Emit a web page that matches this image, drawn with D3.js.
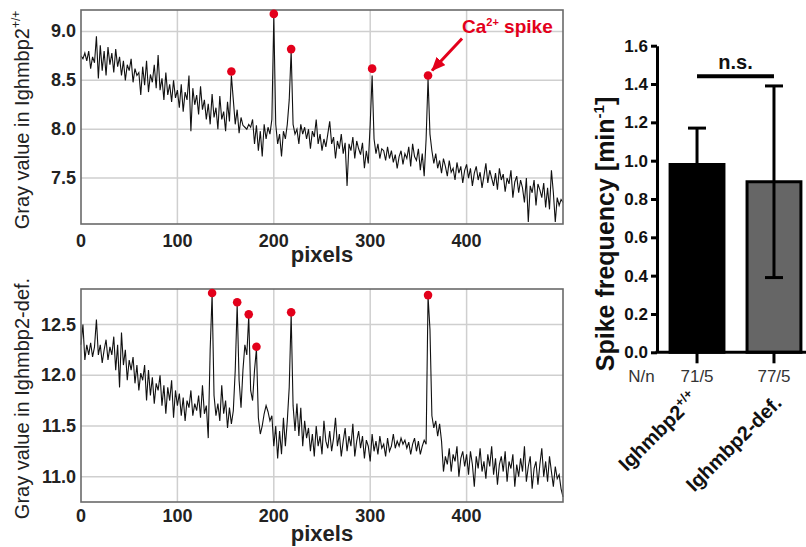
<!DOCTYPE html>
<html>
<head>
<meta charset="utf-8">
<script src="https://cdn.jsdelivr.net/npm/d3@7/dist/d3.min.js"></script>
<style>
	body { margin:0; background:#fff; }
	text { font-family: "Liberation Sans", Arial, sans-serif; }
</style>
</head>
<body>
<svg width="806" height="547"></svg>
<script>
// tracce, un valore ogni 2 pixel (x = 0, 2, 4 ... 500)
var passo = 2;
var tracciaWT = [
	8.75,8.72,8.78,8.70,8.80,8.62,8.74,8.68,8.95,8.52,
	8.86,8.60,8.80,8.55,8.84,8.66,8.78,8.58,8.82,8.64,
	8.74,8.55,8.70,8.50,8.66,8.60,8.72,8.48,8.62,8.55,
	8.58,8.35,8.64,8.45,8.70,8.38,8.56,8.48,8.66,8.42,
	8.76,8.40,8.52,8.30,8.58,8.35,8.46,8.28,8.50,8.32,
	8.40,8.22,8.46,8.18,8.38,8.30,8.55,7.98,8.42,8.25,
	8.35,8.15,8.44,8.20,8.30,8.10,8.26,8.05,8.36,8.12,
	8.22,8.00,8.34,8.10,8.18,7.98,8.28,8.08,8.55,8.30,
	8.05,8.20,7.96,8.12,8.04,8.02,8.00,8.05,8.02,8.10,
	7.85,8.04,7.78,7.98,7.72,8.05,7.90,8.02,7.95,8.10,
	9.15,8.05,7.85,7.95,7.72,7.98,7.90,8.05,8.30,8.80,
	8.05,7.95,8.00,7.85,8.05,7.95,8.02,7.90,8.00,7.80,
	7.98,7.92,8.10,7.85,7.95,7.78,7.90,7.82,7.95,8.08,
	7.85,7.92,7.70,7.88,7.80,7.95,7.75,7.86,7.42,7.85,
	7.78,7.92,7.70,7.88,7.80,7.74,7.86,7.60,7.78,7.65,
	8.05,8.55,7.90,7.75,7.85,7.70,7.80,7.78,7.68,7.82,
	7.70,7.78,7.66,7.74,7.60,7.72,7.78,7.64,7.75,7.70,
	7.82,7.62,7.85,7.72,7.68,7.80,7.58,7.75,7.52,7.90,
	8.52,7.95,7.78,7.65,7.75,7.60,7.68,7.55,7.70,7.62,
	7.52,7.68,7.56,7.60,7.48,7.66,7.55,7.62,7.45,7.58,
	7.64,7.50,7.60,7.42,7.55,7.62,7.48,7.56,7.40,7.52,
	7.65,7.45,7.58,7.50,7.42,7.55,7.38,7.60,7.48,7.54,
	7.36,7.50,7.44,7.58,7.30,7.46,7.52,7.35,7.48,7.40,
	7.25,7.50,7.05,7.42,7.35,7.48,7.22,7.44,7.38,7.30,
	7.45,7.20,7.40,7.18,7.58,7.35,7.05,7.30,7.22,7.28,
	7.25
];
var tracciaDef = [
	12.30,12.50,12.15,12.30,12.20,12.32,12.18,12.28,12.55,12.20,
	12.30,12.12,12.25,12.35,12.15,12.28,12.20,12.38,12.05,12.30,
	11.88,12.42,12.10,12.25,11.95,12.15,12.05,12.18,11.92,12.10,
	11.85,12.02,11.95,12.10,11.75,12.05,11.80,11.98,11.72,11.92,
	11.85,12.00,11.70,11.90,11.62,11.88,11.75,11.95,11.58,11.85,
	11.70,11.82,11.60,11.78,11.55,11.75,11.68,11.85,11.60,11.72,
	11.65,11.80,11.58,11.90,11.62,11.70,11.38,12.25,12.80,11.80,
	11.60,11.72,11.55,11.90,11.62,11.75,11.48,11.68,11.52,11.65,
	12.05,12.70,11.95,11.68,12.05,12.30,12.20,12.58,11.85,11.75,
	12.05,12.26,11.58,11.42,11.50,11.62,11.70,11.64,11.55,11.60,
	11.30,11.50,11.18,11.45,11.22,11.58,11.30,11.55,11.88,12.60,
	11.70,11.45,11.72,11.40,11.68,11.30,11.55,11.38,11.48,11.25,
	11.42,11.20,11.50,11.30,11.40,11.22,11.55,11.35,11.28,11.45,
	11.25,11.38,11.58,11.30,11.42,11.20,11.35,11.48,11.25,11.40,
	11.30,11.52,11.20,11.35,11.45,11.28,11.40,11.18,11.36,11.30,
	11.15,11.42,11.25,11.35,11.22,11.40,11.28,11.32,11.20,11.38,
	11.25,11.30,11.42,11.28,11.35,11.30,11.38,11.32,11.36,11.28,
	11.34,11.22,11.32,11.38,11.25,11.35,11.22,11.30,11.36,11.32,
	12.78,12.45,11.60,11.48,11.55,11.40,11.52,11.35,11.05,11.20,
	11.12,11.28,11.05,11.22,11.15,11.30,11.00,11.18,11.25,11.10,
	11.22,11.02,11.25,11.12,10.90,11.20,11.08,11.28,11.05,11.15,
	10.98,11.22,11.10,11.30,11.02,11.18,10.92,11.12,11.20,11.05,
	11.25,10.95,11.15,11.08,11.22,10.90,11.12,11.00,11.18,11.05,
	11.30,10.95,11.10,11.20,10.88,11.08,11.15,10.92,11.12,11.28,
	11.00,11.15,10.95,11.20,11.05,10.90,11.10,10.98,11.02,10.88,
	10.80
];

// picchi di Ca2+ (punti rossi)
var piccoWTx = [156, 200, 218, 302, 360];
var piccoWTy = [8.59, 9.18, 8.82, 8.62, 8.55];
var piccoDefx = [136, 162, 174, 182, 218, 360];
var piccoDefy = [12.81, 12.72, 12.60, 12.28, 12.62, 12.79];

var tickX = [0, 100, 200, 300, 400];
var tickWT = [7.5, 8.0, 8.5, 9.0];
var tickDef = [11.0, 11.5, 12.0, 12.5];

// grafico a barre
var gruppi = ["Ighmbp2+/+", "Ighmbp2-def."];
var frequenza = [0.98, 0.89];
var errore = [0.19, 0.50];
var conteggi = ["71/5", "77/5"];
var tickFreq = [0.0, 0.2, 0.4, 0.6, 0.8, 1.0, 1.2, 1.4, 1.6];
var livelloNS = 1.44;

var rosso = "#e3001b";
var svg = d3.select("svg");

var defs = svg.append("defs");
defs.append("marker").attr("id", "freccia")
	.attr("markerUnits", "userSpaceOnUse")
	.attr("viewBox", "0 0 14 12").attr("refX", 13).attr("refY", 6)
	.attr("markerWidth", 14).attr("markerHeight", 12).attr("orient", "auto")
	.append("path").attr("d", "M0,0L14,6L0,12Z").attr("fill", rosso);

function pannello(alto, basso, dominioY, traccia, px, py, tickY, titolo, apice, yEtichette, yPixels) {
	var x = d3.scaleLinear().domain([0, 500]).range([81, 563]);
	var y = d3.scaleLinear().domain(dominioY).range([basso, alto]);
	var g = svg.append("g");

	// griglia
	g.selectAll(".gv").data(tickX.slice(1)).enter().append("line")
		.attr("x1", function(d) { return x(d); }).attr("x2", function(d) { return x(d); })
		.attr("y1", alto).attr("y2", basso)
		.attr("stroke", "#cfcfcf").attr("stroke-width", 1.5);
	g.selectAll(".go").data(tickY).enter().append("line")
		.attr("x1", x(0)).attr("x2", x(500))
		.attr("y1", function(d) { return y(d); }).attr("y2", function(d) { return y(d); })
		.attr("stroke", "#cfcfcf").attr("stroke-width", 1.5);

	// traccia
	var linea = d3.line()
		.x(function(d, i) { return x(i * passo); })
		.y(function(d) { return y(d); });
	g.append("path").datum(traccia)
		.attr("d", linea)
		.attr("fill", "none").attr("stroke", "#111").attr("stroke-width", 1.1)
		.attr("stroke-linejoin", "miter");

	// cornice
	g.append("rect").attr("x", x(0)).attr("y", alto)
		.attr("width", x(500) - x(0)).attr("height", basso - alto)
		.attr("fill", "none").attr("stroke", "#6a6a6a").attr("stroke-width", 1.6);

	// punti rossi
	g.selectAll(".picco").data(px).enter().append("circle")
		.attr("cx", function(d) { return x(d); })
		.attr("cy", function(d, i) { return y(py[i]); })
		.attr("r", 4.3).attr("fill", rosso);

	// etichette assi
	g.selectAll(".ty").data(tickY).enter().append("text")
		.attr("x", 76).attr("y", function(d) { return y(d) + 6; })
		.attr("text-anchor", "end").attr("font-size", 18).attr("font-weight", "bold")
		.attr("fill", "#222").text(function(d) { return d3.format(".1f")(d); });
	g.selectAll(".tx").data(tickX).enter().append("text")
		.attr("x", function(d) { return x(d); }).attr("y", yEtichette)
		.attr("text-anchor", "middle").attr("font-size", 18).attr("font-weight", "bold")
		.attr("fill", "#222").text(function(d) { return d; });
	g.append("text").attr("x", (x(0) + x(500)) / 2).attr("y", yPixels)
		.attr("text-anchor", "middle").attr("font-size", 22).attr("font-weight", "bold")
		.attr("fill", "#222").text("pixels");

	var t = g.append("text")
		.attr("transform", "translate(29," + ((alto + basso) / 2 + 3) + ") rotate(-90)")
		.attr("text-anchor", "middle").attr("font-size", 20).attr("fill", "#222");
	t.append("tspan").text(titolo);
	if (apice) t.append("tspan").attr("font-size", 12).attr("dy", -9).text(apice);

	return { x: x, y: y };
}

var sopra = pannello(10, 224, [7.03, 9.22], tracciaWT, piccoWTx, piccoWTy, tickWT,
	"Gray value in Ighmbp2", "+/+", 247, 262);
pannello(289, 502, [10.75, 12.85], tracciaDef, piccoDefx, piccoDefy, tickDef,
	"Gray value in Ighmbp2-def.", null, 522, 541);

// freccia e scritta "Ca2+ spike" sull'ultimo picco
var ultimo = piccoWTx.length - 1;
var punta = [sopra.x(piccoWTx[ultimo]) + 4, sopra.y(piccoWTy[ultimo]) - 5];
svg.append("line")
	.attr("x1", punta[0] + 30).attr("y1", punta[1] - 32)
	.attr("x2", punta[0]).attr("y2", punta[1])
	.attr("stroke", rosso).attr("stroke-width", 3)
	.attr("marker-end", "url(#freccia)");
var ca = svg.append("text").attr("x", 462).attr("y", 33)
	.attr("font-size", 19).attr("font-weight", "bold").attr("fill", rosso);
ca.append("tspan").text("Ca");
ca.append("tspan").attr("font-size", 11).attr("dy", -7).text("2+");
ca.append("tspan").attr("dy", 7).text(" spike");

// ---- grafico a barre ----
var yF = d3.scaleLinear().domain([0, 1.6]).range([352.3, 45.7]);
var xF = d3.scaleBand().domain(gruppi).range([647, 824]).paddingInner(0.3).paddingOuter(0.3);
var centro = function(d) { return xF(d) + xF.bandwidth() / 2; };

var asseY = svg.append("g").attr("transform", "translate(657,0)")
	.call(d3.axisLeft(yF).tickValues(tickFreq).tickFormat(d3.format(".1f")).tickSize(6).tickSizeOuter(0));
asseY.select(".domain").attr("stroke", "#000").attr("stroke-width", 3);
asseY.selectAll(".tick line").attr("stroke", "#000").attr("stroke-width", 3);
asseY.selectAll(".tick text").attr("font-size", 17).attr("font-weight", "bold")
	.attr("fill", "#111").attr("font-family", "Liberation Sans, Arial, sans-serif");

svg.selectAll(".barra").data(gruppi).enter().append("rect")
	.attr("x", function(d) { return xF(d); })
	.attr("y", function(d, i) { return yF(frequenza[i]); })
	.attr("width", xF.bandwidth())
	.attr("height", function(d, i) { return yF(0) - yF(frequenza[i]); })
	.attr("fill", function(d, i) { return i == 0 ? "#000" : "#666"; })
	.attr("stroke", "#000").attr("stroke-width", 3);

// asse x
svg.append("line").attr("x1", 655.5).attr("x2", 806).attr("y1", yF(0)).attr("y2", yF(0))
	.attr("stroke", "#000").attr("stroke-width", 3);
svg.selectAll(".tickb").data(gruppi).enter().append("line")
	.attr("x1", centro).attr("x2", centro)
	.attr("y1", yF(0)).attr("y2", yF(0) + 11)
	.attr("stroke", "#000").attr("stroke-width", 3);

// barre di errore
svg.selectAll(".err").data(gruppi).enter().append("line")
	.attr("x1", centro).attr("x2", centro)
	.attr("y1", function(d, i) { return yF(frequenza[i] + errore[i]); })
	.attr("y2", function(d, i) { return yF(frequenza[i] - errore[i]); })
	.attr("stroke", "#000").attr("stroke-width", 3);
svg.selectAll(".capSu").data(gruppi).enter().append("line")
	.attr("x1", function(d) { return centro(d) - 9; }).attr("x2", function(d) { return centro(d) + 9; })
	.attr("y1", function(d, i) { return yF(frequenza[i] + errore[i]); })
	.attr("y2", function(d, i) { return yF(frequenza[i] + errore[i]); })
	.attr("stroke", "#000").attr("stroke-width", 3);
svg.selectAll(".capGiu").data(gruppi).enter().append("line")
	.attr("x1", function(d) { return centro(d) - 9; }).attr("x2", function(d) { return centro(d) + 9; })
	.attr("y1", function(d, i) { return yF(frequenza[i] - errore[i]); })
	.attr("y2", function(d, i) { return yF(frequenza[i] - errore[i]); })
	.attr("stroke", "#000").attr("stroke-width", 3);

// n.s.
svg.append("line").attr("x1", centro(gruppi[0])).attr("x2", centro(gruppi[1]))
	.attr("y1", yF(livelloNS)).attr("y2", yF(livelloNS))
	.attr("stroke", "#000").attr("stroke-width", 4);
svg.append("text").attr("x", (centro(gruppi[0]) + centro(gruppi[1])) / 2).attr("y", yF(livelloNS) - 7)
	.attr("text-anchor", "middle").attr("font-size", 20).attr("font-weight", "bold").attr("fill", "#111")
	.text("n.s.");

// titolo asse y
var ty = svg.append("text").attr("transform", "translate(614,234) rotate(-90)")
	.attr("text-anchor", "middle").attr("font-size", 25).attr("font-weight", "bold").attr("fill", "#111");
ty.append("tspan").text("Spike frequency [min");
ty.append("tspan").attr("font-size", 15).attr("dy", -10).text("-1");
ty.append("tspan").attr("dy", 10).text("]");

// N/n
svg.append("text").attr("x", 641.5).attr("y", 382).attr("text-anchor", "middle")
	.attr("font-size", 17).attr("fill", "#333").text("N/n");
svg.selectAll(".cont").data(conteggi).enter().append("text")
	.attr("x", function(d, i) { return centro(gruppi[i]); }).attr("y", 382)
	.attr("text-anchor", "middle").attr("font-size", 17).attr("fill", "#333")
	.text(function(d) { return d; });

// nomi dei gruppi ruotati
var etichette = svg.selectAll(".grp").data(gruppi).enter().append("text")
	.attr("transform", function(d, i) {
		return "translate(" + (centro(d) + (i == 0 ? 2 : 9)) + "," + (i == 0 ? 400 : 404) + ") rotate(-45)";
	})
	.attr("text-anchor", "end").attr("font-size", 20).attr("font-weight", "bold").attr("fill", "#111");
etichette.each(function(d) {
	var el = d3.select(this);
	if (d.indexOf("+/+") > 0) {
		el.append("tspan").text("Ighmbp2");
		el.append("tspan").attr("font-size", 13).attr("dy", -8).text("+/+");
	} else {
		el.append("tspan").text(d);
	}
});
</script>
</body>
</html>
